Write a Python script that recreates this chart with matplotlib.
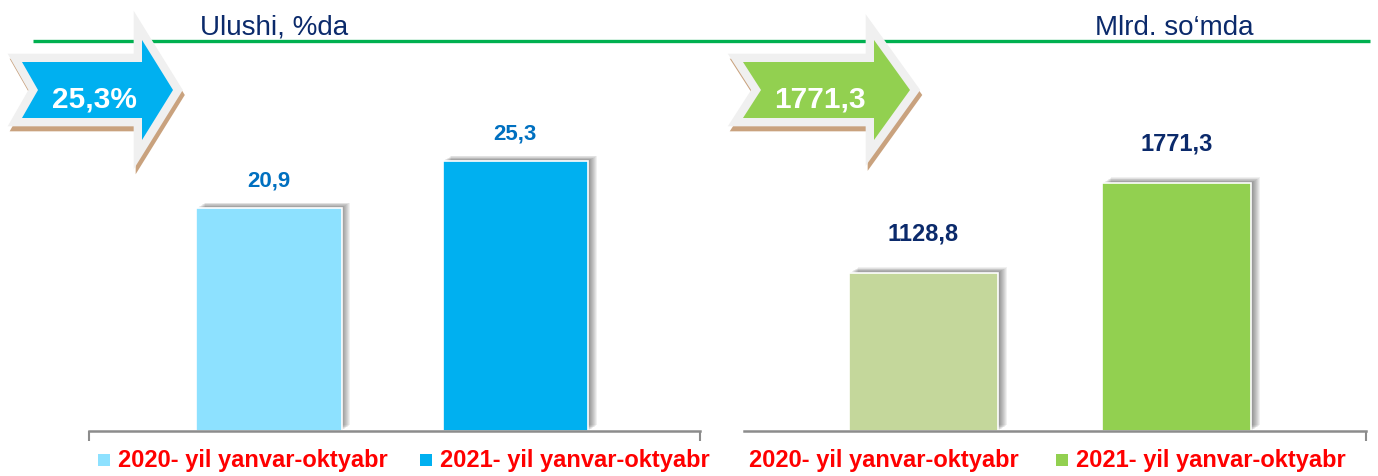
import matplotlib
matplotlib.use("Agg")
import matplotlib.pyplot as plt
from matplotlib.patches import Polygon, Rectangle
import matplotlib.patheffects as pe

# data
periods = ["2020- yil yanvar-oktyabr", "2021- yil yanvar-oktyabr"]
share_pct = [20.9, 25.3]          # Ulushi, %da
share_labels = ["20,9", "25,3"]
volume_bln = [1128.8, 1771.3]     # Mlrd. so'mda
volume_labels = ["1128,8", "1771,3"]
arrow_left_text = "25,3%"
arrow_right_text = "1771,3"

W, H = 1378, 476
fig = plt.figure(figsize=(W / 100, H / 100), dpi=100)

SANS = ["Liberation Sans", "DejaVu Sans"]


def px_axes(x0, x1, ytop, ybot):
    return fig.add_axes([x0 / W, 1 - ybot / H, (x1 - x0) / W, (ybot - ytop) / H])


# soft shadow to the right and above each bar
shadow = [pe.SimplePatchShadow(offset=(0.7 * k, 0.45 * k), shadow_rgbFace="#000000", alpha=0.06)
          for k in range(1, 10)] + [pe.Normal()]


def panel(ax, vals, labels, colors, xlim, ymax, lab_color, lab_off, lab_size, left_tick):
    bars = ax.bar([0, 1], vals, width=0.59, color=colors, edgecolor="white", linewidth=1.2)
    for b in bars:
        b.set_path_effects(shadow)
    for b, t in zip(bars, labels):
        ax.annotate(t, (b.get_x() + b.get_width() / 2, b.get_height()),
                    xytext=(0, lab_off), textcoords="offset pixels", ha="center", va="center",
                    fontsize=lab_size, fontweight="bold", color=lab_color, family=SANS)
    ax.set_xlim(*xlim)
    ax.set_ylim(0, ymax)
    for s in ("left", "right", "top"):
        ax.spines[s].set_visible(False)
    ax.spines["bottom"].set_color("#8C8C8C")
    ax.spines["bottom"].set_linewidth(1.8)
    ax.set_yticks([])
    ax.set_xticks([xlim[0], xlim[1]] if left_tick else [xlim[1]])
    ax.set_xticklabels([])
    ax.tick_params(axis="x", length=7, width=1.5, color="#8C8C8C", direction="out")
    ax.patch.set_alpha(0)


ax1 = px_axes(89, 700, 60, 431)
panel(ax1, share_pct, share_labels, ["#8DE1FF", "#00B0F0"], (-0.73, 1.75), 34.8,
      "#0070C0", 27, 16, True)

ax2 = px_axes(744, 1366, 60, 431)
panel(ax2, volume_bln, volume_labels, ["#C4D79B", "#92D050"], (-0.71, 1.75), 2650,
      "#0B2A6B", 39, 17, False)

# overlay in pixel coordinates for decorations
ov = fig.add_axes([0, 0, 1, 1], zorder=5)
ov.set_xlim(0, W)
ov.set_ylim(H, 0)
ov.axis("off")
ov.patch.set_alpha(0)

ov.plot([33, 1370], [41, 41], color="#00B050", lw=2.4, solid_capstyle="butt", zorder=1)
ov.text(200, 35, "Ulushi, %da", fontsize=20, color="#0B2A6B", family=SANS, va="baseline")
ov.text(1095, 35, "Mlrd. so\u2018mda", fontsize=20, color="#0B2A6B", family=SANS, va="baseline")


def block_arrow(x0, notch, xb, tip, color, text, tx):
    pts = [(x0, 62), (xb, 62), (xb, 40), (tip, 90), (xb, 140), (xb, 118), (x0, 118), (notch, 90)]
    sh = [(x + 2, y + 5) for x, y in pts]
    ov.add_patch(Polygon(sh, closed=True, facecolor="#C9A27E", edgecolor="#C9A27E",
                         lw=12, joinstyle="miter", zorder=2))
    ov.add_patch(Polygon(pts, closed=True, facecolor="#F0F0F0", edgecolor="#F0F0F0",
                         lw=12, joinstyle="miter", zorder=3))
    ov.add_patch(Polygon(pts, closed=True, facecolor=color, edgecolor="none", zorder=3.5))
    ov.text(tx, 99, text, fontsize=21.5, fontweight="bold", color="white", family=SANS,
            ha="center", va="center", zorder=4)


block_arrow(22, 38, 142, 173, "#00B0F0", arrow_left_text, 94)
block_arrow(743, 761, 874, 910, "#92D050", arrow_right_text, 820)

# legends
def legend_item(xs, xt, color, label):
    if color is not None:
        ov.add_patch(Rectangle((xs, 454), 12, 12, facecolor=color, edgecolor="none"))
    ov.text(xt, 461, label, fontsize=17, fontweight="bold", color="#FF0000", family=SANS,
            va="center", ha="left")


legend_item(98, 118, "#8DE1FF", periods[0])
legend_item(420, 440, "#00B0F0", periods[1])
legend_item(0, 749, None, periods[0])
legend_item(1056, 1076, "#92D050", periods[1])

fig.savefig("out.png", dpi=100)
